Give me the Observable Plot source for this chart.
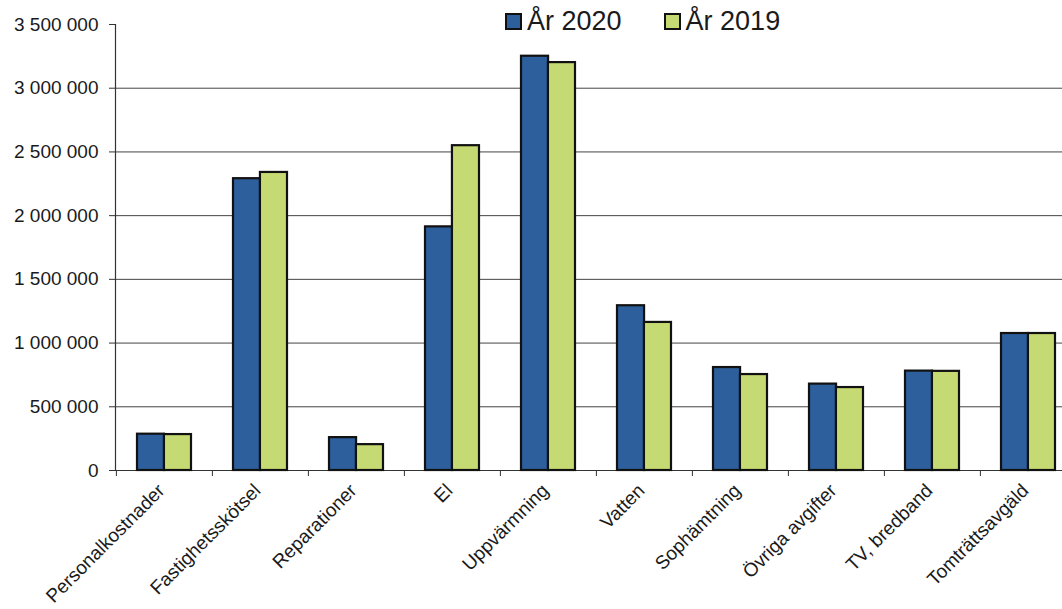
<!DOCTYPE html>
<html>
<head>
<meta charset="utf-8">
<script src="https://cdn.jsdelivr.net/npm/d3@7"></script>
<script src="https://cdn.jsdelivr.net/npm/@observablehq/plot@0.6"></script>
<style>
  html, body { margin: 0; padding: 0; background: #fff; overflow: hidden; }
  #wrap { position: relative; width: 1062px; height: 609px; font-family: "Liberation Sans", Arial, sans-serif; }
  #legend { position: absolute; top: 6px; left: 505px; display: flex; align-items: center; font-size: 27px; color: #1a1a1a; }
  .item { display: flex; align-items: center; margin-right: 42px; }
  .sw { width: 13px; height: 13px; border: 2px solid #111; margin-right: 5px; }
</style>
</head>
<body>
<div id="wrap"><div id="legend"></div></div>
<script>
const categories = ["Personalkostnader", "Fastighetsskötsel", "Reparationer", "El", "Uppvärmning", "Vatten", "Sophämtning", "Övriga avgifter", "TV, bredband", "Tomträttsavgäld"];
const values2020 = [285000, 2290000, 258000, 1912000, 3251000, 1293000, 808000, 678000, 780000, 1075000];
const values2019 = [282000, 2339000, 203000, 2549000, 3201000, 1162000, 753000, 651000, 778000, 1075000];
const seriesNames = ["År 2020", "År 2019"];
const seriesColors = ["#2d5f9c", "#c5da72"];
const yTicks = [0, 500000, 1000000, 1500000, 2000000, 2500000, 3000000, 3500000];
const gridTicks = [500000, 1000000, 1500000, 2000000, 2500000, 3000000];

const d2020 = categories.map((c, i) => ({category: c, value: values2020[i]}));
const d2019 = categories.map((c, i) => ({category: c, value: values2019[i]}));

const fmt = d3.formatLocale({decimal: ",", thousands: " ", grouping: [3], currency: ["", ""]}).format(",");

const x0 = 115, x1 = 1077;
const step = (x1 - x0) / categories.length;
const bw = step * 0.56;

const chart = Plot.plot({
  width: 1062,
  height: 609,
  marginLeft: 115,
  marginRight: 0,
  marginTop: 24,
  marginBottom: 139,
  style: {fontFamily: "'Liberation Sans', Arial, sans-serif", color: "#1a1a1a", background: "#fff"},
  x: {domain: categories, range: [x0, x1], paddingInner: 0.44, paddingOuter: 0.22, label: null},
  y: {domain: [0, 3500000], label: null},
  marks: [
    Plot.gridY(gridTicks, {stroke: "#444", strokeOpacity: 1, strokeWidth: 1}),
    Plot.frame({anchor: "left", stroke: "#333", strokeWidth: 1.2}),
    Plot.ruleY([0], {stroke: "#333", strokeWidth: 1.2}),
    Plot.axisY({ticks: yTicks, tickFormat: fmt, tickSize: 6, tickPadding: 11, fontSize: 19, label: null, stroke: "#333"}),
    Plot.axisX({tickSize: 6, dx: -step / 2, tickFormat: () => "", label: null, stroke: "#333"}),
    Plot.axisX({tickRotate: -45, fontSize: 19, tickSize: 0, tickPadding: 17, dx: -3, label: null}),
    Plot.barY(d2020, {x: "category", y: "value", fill: seriesColors[0], stroke: "#111", strokeWidth: 2.2, insetRight: bw / 2}),
    Plot.barY(d2019, {x: "category", y: "value", fill: seriesColors[1], stroke: "#111", strokeWidth: 2.2, insetLeft: bw / 2})
  ]
});
document.getElementById("wrap").appendChild(chart);

const legend = document.getElementById("legend");
seriesNames.forEach((name, i) => {
  const item = document.createElement("div");
  item.className = "item";
  const sw = document.createElement("div");
  sw.className = "sw";
  sw.style.background = seriesColors[i];
  const t = document.createElement("span");
  t.textContent = name;
  item.appendChild(sw);
  item.appendChild(t);
  legend.appendChild(item);
});
</script>
</body>
</html>
